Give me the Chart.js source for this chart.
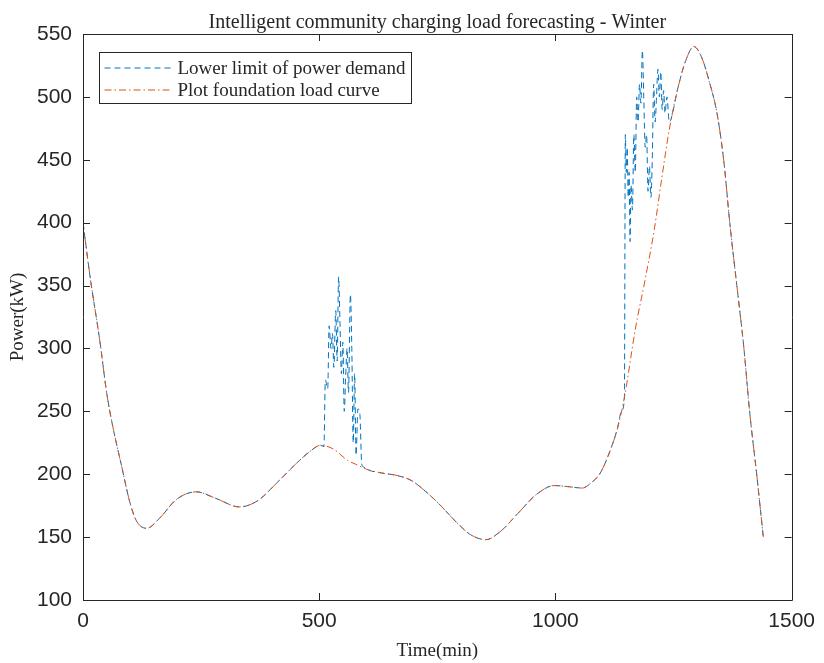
<!DOCTYPE html>
<html><head><meta charset="utf-8">
<script src="https://cdn.jsdelivr.net/npm/chart.js@4.4.0/dist/chart.umd.min.js"></script>
<style>html,body{margin:0;padding:0;background:#fff;}</style>
</head><body>
<canvas id="c" width="824" height="663"></canvas>
<script>
const titleText = 'Intelligent community charging load forecasting - Winter';
const xTitle = 'Time(min)';
const yTitle = 'Power(kW)';
const seriesNames = ['Lower limit of power demand', 'Plot foundation load curve'];
const xTicks = [0, 500, 1000, 1500];
const yTicks = [100, 150, 200, 250, 300, 350, 400, 450, 500, 550];

// Plot foundation load curve (time in min, load in kW)
const foundationTime = [0, 15, 36, 50, 63, 82, 99, 113, 135, 162, 198, 240, 280, 331, 370, 410, 450, 480, 503, 530, 560, 577, 600, 632, 665, 695, 720, 752, 790, 820, 853, 885, 921, 960, 998, 1030, 1057, 1075, 1095, 1115, 1131, 1146, 1169, 1190, 1209, 1225, 1241, 1258, 1275, 1293, 1310, 1325, 1342, 1357, 1369, 1384, 1399, 1411, 1426, 1440];
const foundationLoad = [400, 357, 305, 265, 238, 206, 178, 163, 157, 165, 180, 186, 181, 174, 179, 193, 208, 218, 223, 220, 211, 208, 204, 201, 199, 195, 188, 177, 162, 152, 148, 155, 169, 184, 191, 190, 189, 193, 201, 218, 236, 261, 315, 355, 394, 435, 474, 505, 528, 540, 531, 513, 487, 447, 400, 350, 300, 250, 200, 150];

// Lower limit of power demand: deviations from the foundation curve (midday and evening charging)
const spike1Time = [503, 510, 513, 518, 521, 525, 528, 531, 535, 538, 541, 544, 547, 550, 553, 556, 559, 562, 566, 569, 572, 575, 578, 582, 586, 590, 593];
const spike1Load = [223, 222, 275, 268, 318, 300, 312, 285, 330, 290, 357, 320, 280, 305, 250, 278, 300, 265, 343, 300, 225, 280, 215, 252, 248, 208, 206];
const spike2Time = [1140, 1146, 1148, 1150, 1152, 1154, 1156, 1158, 1160, 1163, 1166, 1169, 1172, 1175, 1178, 1181, 1184, 1187, 1190, 1193, 1196, 1199, 1202, 1205, 1208, 1211, 1214, 1217, 1220, 1223, 1226, 1229, 1232, 1236, 1241, 1246];
const spike2Load = [250, 261, 470, 440, 460, 420, 440, 385, 430, 410, 470, 440, 500, 480, 510, 495, 537, 500, 460, 470, 425, 445, 420, 450, 510, 480, 500, 522, 500, 520, 490, 505, 487, 500, 480, 484];

function pts(t, v) { return t.map((x, i) => ({ x: x, y: v[i] })); }
const foundationPts = pts(foundationTime, foundationLoad);
const spikes = [pts(spike1Time, spike1Load), pts(spike2Time, spike2Load)];
const demandPts = foundationPts.filter(p => !spikes.some(s => p.x >= s[0].x && p.x <= s[s.length - 1].x))
  .concat(spikes[0], spikes[1]).sort((a, b) => a.x - b.x);

const BLUE = '#0072BD', RED = '#D95319', AX = '#262626';
const BLUE_DASH = [6, 4], RED_DASH = [7, 3, 1.5, 3];
const SERIF = 'Liberation Serif';

const boxPlugin = {
  id: 'matlabBox',
  afterDatasetsDraw(chart) {
    const { ctx, chartArea: a, scales } = chart;
    ctx.save();
    ctx.strokeStyle = AX; ctx.lineWidth = 1;
    ctx.beginPath();
    ctx.rect(Math.round(a.left) + 0.5, Math.round(a.top) + 0.5, Math.round(a.right - a.left), Math.round(a.bottom - a.top));
    ctx.stroke();
    const L = 7;
    ctx.beginPath();
    xTicks.forEach(v => {
      const x = Math.round(scales.x.getPixelForValue(v)) + 0.5;
      ctx.moveTo(x, a.bottom); ctx.lineTo(x, a.bottom - L);
      ctx.moveTo(x, a.top); ctx.lineTo(x, a.top + L);
    });
    yTicks.forEach(v => {
      const y = Math.round(scales.y.getPixelForValue(v)) + 0.5;
      ctx.moveTo(a.left, y); ctx.lineTo(a.left + L, y);
      ctx.moveTo(a.right, y); ctx.lineTo(a.right - L, y);
    });
    ctx.stroke();

    // title, centred over the axes
    ctx.fillStyle = AX; ctx.textAlign = 'center'; ctx.textBaseline = 'middle';
    ctx.font = '20px "' + SERIF + '"';
    ctx.fillText(titleText, (a.left + a.right) / 2, 22.5);

    // legend
    const lx = 99.5, ly = 52.5;
    ctx.font = '19px "' + SERIF + '"';
    const tw = Math.max(...seriesNames.map(s => ctx.measureText(s).width));
    const textX = lx + 78;
    const w = Math.round(textX - lx + tw + 6), h = 51;
    ctx.fillStyle = '#fff';
    ctx.fillRect(lx, ly, w, h);
    ctx.strokeStyle = AX; ctx.lineWidth = 1;
    ctx.strokeRect(lx, ly, w, h);
    const rows = [ly + 15.5, ly + 37.5];
    const styles = [[BLUE, BLUE_DASH], [RED, RED_DASH]];
    rows.forEach((y, i) => {
      ctx.strokeStyle = styles[i][0]; ctx.setLineDash(styles[i][1]);
      ctx.beginPath(); ctx.moveTo(lx + 5, y); ctx.lineTo(lx + 71, y); ctx.stroke();
      ctx.setLineDash([]);
      ctx.fillStyle = AX; ctx.textBaseline = 'middle'; ctx.textAlign = 'left';
      ctx.fillText(seriesNames[i], textX, y + 1);
    });
    ctx.restore();
  }
};

new Chart(document.getElementById('c'), {
  type: 'line',
  data: {
    datasets: [
      { label: seriesNames[0], data: demandPts, borderColor: BLUE, borderWidth: 1, borderDash: BLUE_DASH,
        pointRadius: 0, cubicInterpolationMode: 'monotone', fill: false, order: 1 },
      { label: seriesNames[1], data: foundationPts, borderColor: RED, borderWidth: 1, borderDash: RED_DASH,
        pointRadius: 0, cubicInterpolationMode: 'monotone', fill: false, order: 0 }
    ]
  },
  options: {
    responsive: false, animation: false, devicePixelRatio: 1,
    layout: { padding: { left: 0, right: 29, top: 34, bottom: 0 } },
    plugins: {
      legend: { display: false },
      tooltip: { enabled: false },
      title: { display: false }
    },
    scales: {
      x: { type: 'linear', min: 0, max: 1500,
        afterBuildTicks: s => { s.ticks = xTicks.map(v => ({ value: v })); },
        afterFit: s => { s.height = 63; },
        grid: { display: false, drawTicks: false },
        border: { display: false },
        ticks: { color: AX, font: { family: 'Liberation Sans', size: 21 }, padding: 9, maxRotation: 0,
          callback: v => String(v) },
        title: { display: true, text: xTitle, color: AX, font: { family: SERIF, size: 19, lineHeight: 1 }, padding: { top: 0, bottom: 2.5 } }
      },
      y: { type: 'linear', min: 100, max: 550,
        afterBuildTicks: s => { s.ticks = yTicks.map(v => ({ value: v })); },
        afterFit: s => { s.width = 83; },
        grid: { display: false, drawTicks: false },
        border: { display: false },
        ticks: { color: AX, font: { family: 'Liberation Sans', size: 21 }, padding: 11, callback: v => String(v) },
        title: { display: true, text: yTitle, color: AX, font: { family: SERIF, size: 19, lineHeight: 1 }, padding: { top: 8.5, bottom: 0 } }
      }
    }
  },
  plugins: [boxPlugin]
});
</script>
</body></html>
